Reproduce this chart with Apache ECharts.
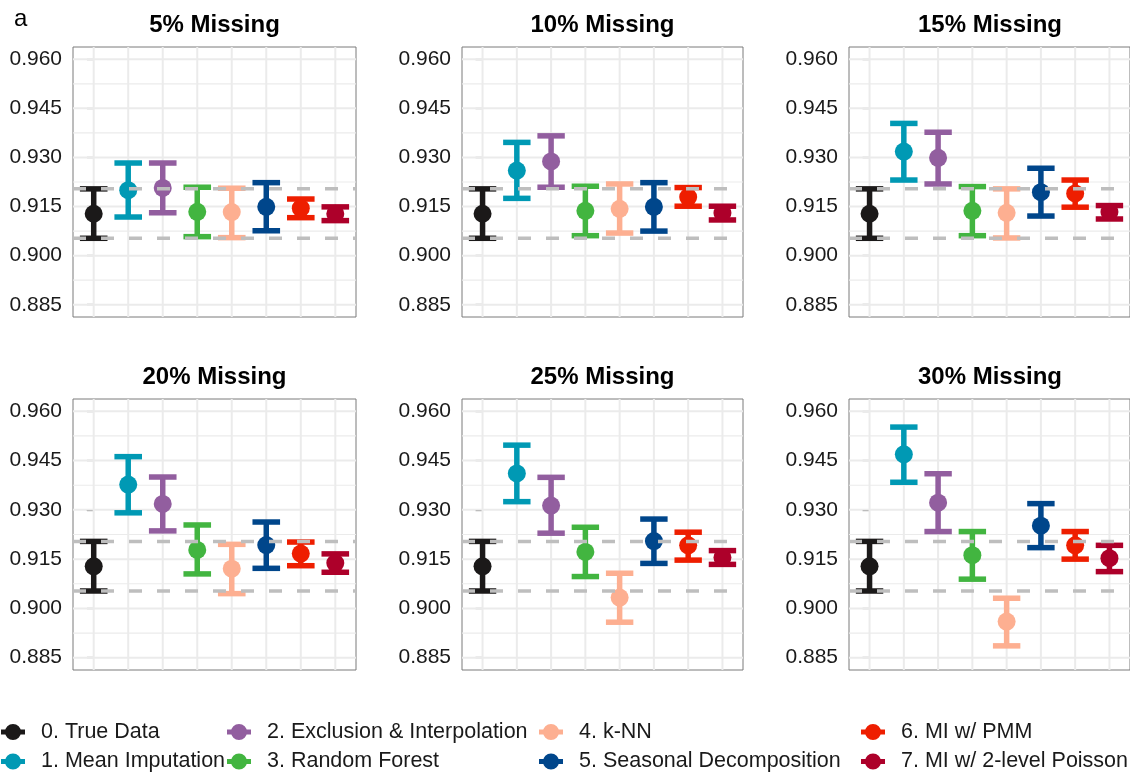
<!DOCTYPE html>
<html>
<head>
<meta charset="utf-8">
<script src="https://cdn.jsdelivr.net/npm/echarts@6/dist/echarts.min.js"></script>
<style>html,body{margin:0;padding:0;background:#fff}#c{width:1130px;height:775px}</style>
</head>
<body>
<div id="c"></div>
<script>
// ---------- data ----------
const methods = ['0. True Data', '1. Mean Imputation', '2. Exclusion & Interpolation', '3. Random Forest',
  '4. k-NN', '5. Seasonal Decomposition', '6. MI w/ PMM', '7. MI w/ 2-level Poisson'];
const colors = ['#1B1919', '#0099B4', '#925E9F', '#42B540', '#FDAF91', '#00468B', '#EE1E00', '#AD002A'];
const panelTitles = ['5% Missing', '10% Missing', '15% Missing', '20% Missing', '25% Missing', '30% Missing'];
const yTicks = [0.885, 0.900, 0.915, 0.930, 0.945, 0.960];
const yMinor = [0.8925, 0.9075, 0.9225, 0.9375, 0.9525];

const mean05  = [0.9128, 0.9200, 0.9207, 0.9134, 0.9133, 0.9149, 0.9145, 0.9128];
const lower05 = [0.9053, 0.9118, 0.9131, 0.9058, 0.9055, 0.9076, 0.9116, 0.9107];
const upper05 = [0.9204, 0.9283, 0.9283, 0.9209, 0.9206, 0.9223, 0.9173, 0.9149];

const mean10  = [0.9128, 0.9260, 0.9288, 0.9137, 0.9143, 0.9149, 0.9179, 0.9130];
const lower10 = [0.9053, 0.9175, 0.9209, 0.9061, 0.9069, 0.9075, 0.9151, 0.9109];
const upper10 = [0.9204, 0.9346, 0.9366, 0.9212, 0.9219, 0.9223, 0.9208, 0.9151];

const mean15  = [0.9128, 0.9318, 0.9299, 0.9137, 0.9131, 0.9194, 0.9190, 0.9133];
const lower15 = [0.9053, 0.9231, 0.9219, 0.9061, 0.9054, 0.9121, 0.9148, 0.9112];
const upper15 = [0.9204, 0.9404, 0.9377, 0.9211, 0.9204, 0.9267, 0.9231, 0.9153];

const mean20  = [0.9128, 0.9377, 0.9318, 0.9178, 0.9121, 0.9193, 0.9167, 0.9138];
const lower20 = [0.9053, 0.9291, 0.9236, 0.9105, 0.9045, 0.9122, 0.9130, 0.9110];
const upper20 = [0.9204, 0.9462, 0.9400, 0.9254, 0.9195, 0.9263, 0.9202, 0.9166];

const mean25  = [0.9128, 0.9411, 0.9313, 0.9172, 0.9033, 0.9205, 0.9192, 0.9155];
const lower25 = [0.9053, 0.9325, 0.9229, 0.9097, 0.8958, 0.9137, 0.9147, 0.9134];
const upper25 = [0.9204, 0.9497, 0.9399, 0.9247, 0.9107, 0.9272, 0.9232, 0.9176];

const mean30  = [0.9128, 0.9469, 0.9322, 0.9162, 0.8960, 0.9252, 0.9192, 0.9153];
const lower30 = [0.9053, 0.9384, 0.9234, 0.9089, 0.8886, 0.9185, 0.9150, 0.9112];
const upper30 = [0.9204, 0.9552, 0.9410, 0.9234, 0.9031, 0.9319, 0.9234, 0.9192];

// ---------- build ----------
const means  = [mean05, mean10, mean15, mean20, mean25, mean30];
const lowers = [lower05, lower10, lower15, lower20, lower25, lower30];
const uppers = [upper05, upper10, upper15, upper20, upper25, upper30];

const FONT = '"Liberation Sans", Arial, Helvetica, sans-serif';
const grids = [
  {left: 73,  top: 47,  width: 283, height: 270},
  {left: 462, top: 47,  width: 281, height: 270},
  {left: 849, top: 47,  width: 282, height: 270},
  {left: 73,  top: 399, width: 283, height: 271},
  {left: 462, top: 399, width: 281, height: 271},
  {left: 849, top: 399, width: 282, height: 271}
];
const Y_MIN = 0.885 - 0.075 * 0.05, Y_MAX = 0.960 + 0.075 * 0.05;

function renderHGrid(params, api) {
  const cs = params.coordSys;
  const p = api.coord([0, api.value(1)]);
  const major = api.value(2) === 1;
  return {type: 'line', shape: {x1: cs.x, y1: p[1], x2: cs.x + cs.width, y2: p[1]},
    style: {stroke: '#ebebeb', lineWidth: major ? 2 : 1.2}};
}
function renderVGrid(params, api) {
  const cs = params.coordSys;
  const p = api.coord([api.value(0), 0.92]);
  return {type: 'line', shape: {x1: p[0], y1: cs.y, x2: p[0], y2: cs.y + cs.height},
    style: {stroke: '#ebebeb', lineWidth: 2}};
}
function renderDash(params, api) {
  const cs = params.coordSys;
  const p = api.coord([0, api.value(1)]);
  return {type: 'line', shape: {x1: cs.x, y1: p[1], x2: cs.x + cs.width, y2: p[1]},
    style: {stroke: '#bebebe', lineWidth: 3.5, lineDash: [13, 15], lineDashOffset: 0}};
}
function renderErr(params, api) {
  const x = api.value(0), lo = api.value(1), hi = api.value(2), m = api.value(3);
  const a = api.coord([x, hi]), b = api.coord([x, lo]), c = api.coord([x, m]);
  const half = api.size([0.8, 0])[0] / 2;
  const color = api.visual('color');
  const ls = {stroke: color, lineWidth: 5.5, lineCap: 'butt'};
  return {type: 'group', children: [
    {type: 'line', shape: {x1: a[0], y1: a[1], x2: b[0], y2: b[1]}, style: ls},
    {type: 'line', shape: {x1: a[0] - half, y1: a[1], x2: a[0] + half, y2: a[1]}, style: ls},
    {type: 'line', shape: {x1: b[0] - half, y1: b[1], x2: b[0] + half, y2: b[1]}, style: ls},
    {type: 'circle', shape: {cx: c[0], cy: c[1], r: 9}, style: {fill: color}}
  ]};
}

const xAxes = [], yAxes = [], series = [], graphics = [];
grids.forEach((g, gi) => {
  xAxes.push({type: 'value', gridIndex: gi, min: -0.6, max: 7.6,
    axisLine: {show: false}, axisTick: {show: false}, axisLabel: {show: false}, splitLine: {show: false}});
  yAxes.push({type: 'value', gridIndex: gi, min: Y_MIN, max: Y_MAX,
    axisLine: {show: false},
    axisTick: {show: true, length: 7, customValues: yTicks, lineStyle: {color: '#333', width: 1.2}},
    axisLabel: {show: true, customValues: yTicks, margin: 11, color: '#1a1a1a', fontSize: 21, fontFamily: FONT,
      formatter: v => Number(v).toFixed(3)},
    splitLine: {show: false}});
  const hData = yTicks.map(v => [0, v, 1]).concat(yMinor.map(v => [0, v, 0]));
  series.push({type: 'custom', xAxisIndex: gi, yAxisIndex: gi, z: 1, silent: true,
    renderItem: renderHGrid, data: hData, encode: {x: 0, y: 1}});
  series.push({type: 'custom', xAxisIndex: gi, yAxisIndex: gi, z: 1, silent: true,
    renderItem: renderVGrid, data: methods.map((_, i) => [i]), encode: {x: 0}});
  methods.forEach((name, mi) => {
    series.push({type: 'custom', name: name, xAxisIndex: gi, yAxisIndex: gi, z: 3,
      itemStyle: {color: colors[mi]},
      renderItem: renderErr,
      data: [[mi, lowers[gi][mi], uppers[gi][mi], means[gi][mi]]],
      encode: {x: 0, y: [1, 2, 3]}});
  });
  series.push({type: 'custom', xAxisIndex: gi, yAxisIndex: gi, z: 10, silent: true,
    renderItem: renderDash, data: [[0, lowers[gi][0]], [0, uppers[gi][0]]], encode: {x: 0, y: 1}});
  graphics.push({type: 'text', x: g.left + g.width / 2, y: g.top - 22, silent: true,
    style: {text: panelTitles[gi], fontSize: 24, fontWeight: 'bold', fontFamily: FONT,
      fill: '#000', align: 'center', verticalAlign: 'middle'}});
});
graphics.push({type: 'text', x: 14, y: 19, silent: true,
  style: {text: 'a', fontSize: 24, fontFamily: FONT, fill: '#000', align: 'left', verticalAlign: 'middle'}});

const ICON = 'path://M0,5.5L24,5.5L24,10.5L0,10.5Z M4,8A8,8 0 1,1 20,8A8,8 0 1,1 4,8Z';
const legendCols = [[0, 1], [2, 3], [4, 5], [6, 7]];
const legendLeft = [1, 227, 539, 861];
const legends = legendCols.map((idx, k) => ({
  orient: 'vertical', left: legendLeft[k], top: 721, padding: 0, itemGap: 7.5,
  itemWidth: 24, itemHeight: 16, icon: ICON, selectedMode: false,
  data: idx.map(i => methods[i]),
  textStyle: {fontSize: 21.5, color: '#1a1a1a', fontFamily: FONT, padding: [0, 0, 0, 11]}
}));

const chart = echarts.init(document.getElementById('c'), null, {renderer: 'canvas'});
chart.setOption({
  animation: false,
  backgroundColor: '#fff',
  grid: grids.map(g => Object.assign({show: true, borderColor: '#7a7a7a', borderWidth: 1, backgroundColor: 'transparent'}, g)),
  xAxis: xAxes,
  yAxis: yAxes,
  legend: legends,
  graphic: graphics,
  series: series
});
</script>
</body>
</html>
